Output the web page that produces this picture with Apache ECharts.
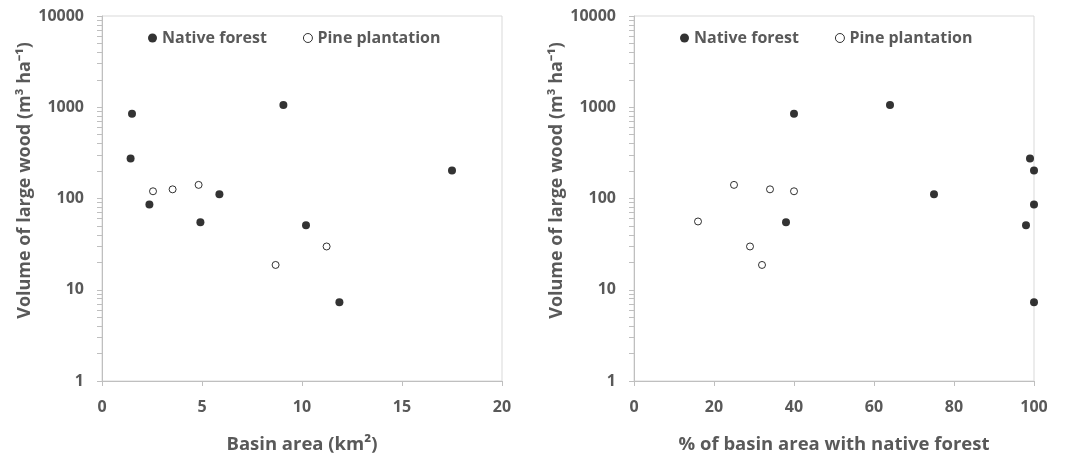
<!DOCTYPE html>
<html><head><meta charset="utf-8">
<script src="https://cdn.jsdelivr.net/npm/echarts@6/dist/echarts.min.js"></script>
<style>html,body{margin:0;padding:0;background:#fff}#c{width:1067px;height:459px}</style>
</head><body><div id="c"></div>
<script>
// Left panel: basin area (km2) vs volume of large wood
const nativeArea = [1.5, 1.43, 2.37, 5.87, 4.92, 9.07, 10.2, 11.87, 17.5];
const nativeVolA = [850, 275, 86, 111, 55, 1060, 51, 7.3, 203];
const pineArea = [2.55, 3.53, 4.83, 8.68, 11.23];
const pineVolA = [120, 126, 141, 18.7, 29.8];
// Right panel: % of basin area with native forest vs volume
const nativePct = [40, 64, 99, 100, 75, 100, 38, 98, 100];
const nativeVolB = [850, 1060, 275, 203, 111, 86, 55, 51, 7.3];
const pinePct = [25, 34, 40, 16, 29, 32];
const pineVolB = [141, 126, 120, 56, 29.8, 18.7];
const yTicks = [1,2,3,4,5,6,7,8,9,10,20,30,40,50,60,70,80,90,100,200,300,400,500,600,700,800,900,1000,2000,3000,4000,5000,6000,7000,8000,9000,10000];

const txt = '#595959';
const font = 'Open Sans';
const zip = (a, b) => a.map((v, i) => [v, b[i]]);

function yAxis(idx) {
  return {
    type: 'log', logBase: 10, min: 1, max: 10000, gridIndex: idx,
    name: 'Volume of large wood (m³ ha⁻¹)', nameLocation: 'middle', nameGap: 66,
    nameTextStyle: {color: txt, fontFamily: font, fontWeight: 'bold', fontSize: 18, padding: [0, 0, 0, 36]},
    axisLine: {show: true, lineStyle: {color: '#bfbfbf'}},
    axisTick: {show: true, length: 5, customValues: yTicks, lineStyle: {color: '#bfbfbf'}},
    axisLabel: {color: txt, fontFamily: font, fontWeight: 'bold', fontSize: 16, margin: 18,
      formatter: v => String(Math.round(v))},
    splitLine: {show: false}
  };
}
function xAxis(idx, max, interval, name) {
  return {
    type: 'value', min: 0, max: max, interval: interval, gridIndex: idx,
    name: name, nameLocation: 'middle', nameGap: 54,
    nameTextStyle: {color: txt, fontFamily: font, fontWeight: 'bold', fontSize: 18.5},
    axisLine: {show: true, lineStyle: {color: '#bfbfbf'}},
    axisTick: {show: true, length: 5, inside: false, lineStyle: {color: '#bfbfbf'}},
    axisLabel: {color: txt, fontFamily: font, fontWeight: 'bold', fontSize: 16, margin: 18},
    splitLine: {show: false}
  };
}
const nativeStyle = {color: '#000', borderColor: '#000', borderWidth: 0};
const pineStyle = {color: '#fff', borderColor: '#000', borderWidth: 1};
function legend(left) {
  return {
    left: left, top: 25, itemGap: 36, itemWidth: 9, itemHeight: 9,
    textStyle: {color: txt, fontFamily: font, fontWeight: 'bold', fontSize: 16},
    data: [
      {name: 'Native forest', icon: 'circle', itemStyle: nativeStyle},
      {name: 'Pine plantation', icon: 'circle', itemStyle: {color: '#fff', borderColor: '#000', borderWidth: 1}}
    ]
  };
}
const chart = echarts.init(document.getElementById('c'), null, {renderer: 'canvas'});
chart.setOption({
  backgroundColor: '#fff',
  animation: false,
  grid: [
    {left: 102, right: 565, top: 16, bottom: 78, outerBoundsMode: 'none', containLabel: false, show: true, borderColor: '#d9d9d9', borderWidth: 1, backgroundColor: 'transparent'},
    {left: 634, right: 33, top: 16, bottom: 78, outerBoundsMode: 'none', containLabel: false, show: true, borderColor: '#d9d9d9', borderWidth: 1, backgroundColor: 'transparent'}
  ],
  legend: [legend(143), legend(675)],
  xAxis: [xAxis(0, 20, 5, 'Basin area (km²)'), xAxis(1, 100, 20, '% of basin area with native forest')],
  yAxis: [yAxis(0), yAxis(1)],
  series: [
    {type: 'scatter', name: 'Native forest', xAxisIndex: 0, yAxisIndex: 0, symbolSize: 8, itemStyle: nativeStyle, data: zip(nativeArea, nativeVolA)},
    {type: 'scatter', name: 'Pine plantation', xAxisIndex: 0, yAxisIndex: 0, symbolSize: 7, itemStyle: pineStyle, data: zip(pineArea, pineVolA)},
    {type: 'scatter', name: 'Native forest', xAxisIndex: 1, yAxisIndex: 1, symbolSize: 8, itemStyle: nativeStyle, data: zip(nativePct, nativeVolB)},
    {type: 'scatter', name: 'Pine plantation', xAxisIndex: 1, yAxisIndex: 1, symbolSize: 7, itemStyle: pineStyle, data: zip(pinePct, pineVolB)}
  ]
});
</script></body></html>
